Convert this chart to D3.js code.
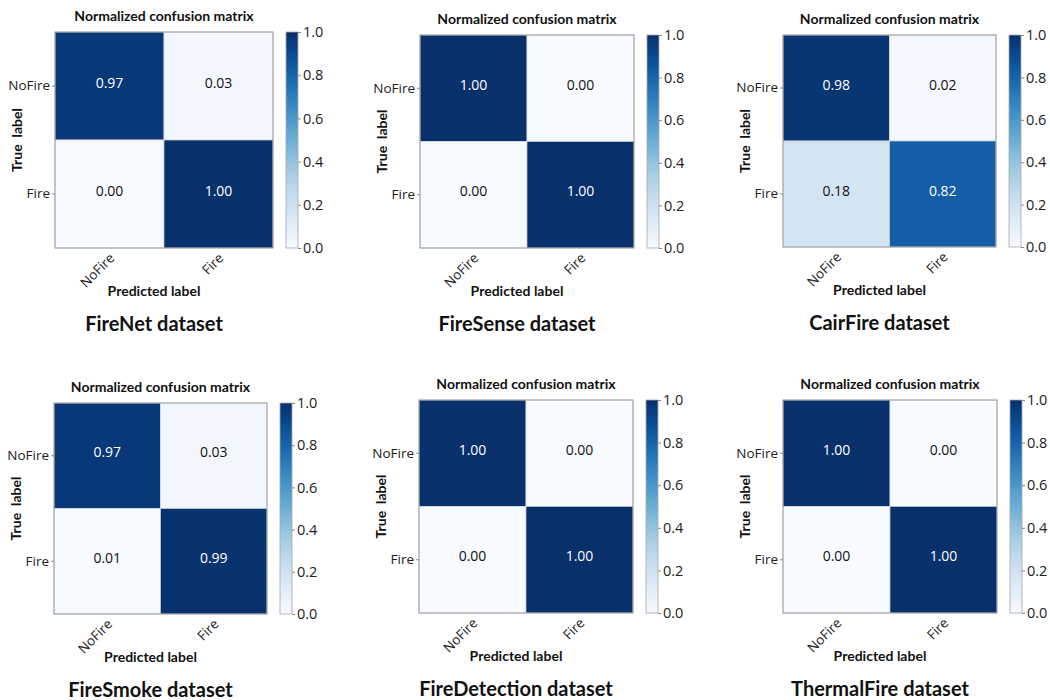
<!DOCTYPE html>
<html>
<head>
<meta charset="utf-8">
<script src="https://cdn.jsdelivr.net/npm/d3@7"></script>
<style>
  body { margin: 0; background: #fff; }
  svg { display: block; }
</style>
</head>
<body>
<svg id="chart" width="1050" height="700"></svg>
<script>
// class names on both axes
const classes = ["NoFire", "Fire"];

// dataset captions, in panel order
const datasetNames = ["FireNet dataset", "FireSense dataset", "CairFire dataset",
                      "FireSmoke dataset", "FireDetection dataset", "ThermalFire dataset"];

// normalized confusion matrices (rows = true, cols = predicted)
const fireNet       = [[0.97, 0.03], [0.00, 1.00]];
const fireSense     = [[1.00, 0.00], [0.00, 1.00]];
const cairFire      = [[0.98, 0.02], [0.18, 0.82]];
const fireSmoke     = [[0.97, 0.03], [0.01, 0.99]];
const fireDetection = [[1.00, 0.00], [0.00, 1.00]];
const thermalFire   = [[1.00, 0.00], [0.00, 1.00]];

const colorbarTicks = [0, 0.2, 0.4, 0.6, 0.8, 1.0];

const matrices = [fireNet, fireSense, cairFire, fireSmoke, fireDetection, thermalFire];

// where each matrix sits on the page
const panels = [
  {x: 55,  y: 32,  w: 218, h: 216},
  {x: 420, y: 35,  w: 214, h: 213},
  {x: 783, y: 35,  w: 213, h: 212},
  {x: 54,  y: 403, w: 213, h: 211},
  {x: 419, y: 400, w: 214, h: 213},
  {x: 783, y: 400, w: 214, h: 213}
];

const svg = d3.select("#chart");
const color = d3.scaleSequential(d3.interpolateBlues).domain([0, 1]);
const tickFont = "'Open Sans', sans-serif";
const boldFont = "Lato, 'Open Sans', sans-serif";

// shared gradient for all colorbars
const grad = svg.append("defs").append("linearGradient")
    .attr("id", "blues").attr("x1", 0).attr("y1", 1).attr("x2", 0).attr("y2", 0);
d3.range(0, 1.0001, 0.05).forEach(t => {
    grad.append("stop").attr("offset", t).attr("stop-color", color(t));
});

panels.forEach((p, i) => {
    const m = matrices[i];
    const g = svg.append("g").attr("transform", `translate(${p.x},${p.y})`);

    let x = d3.scaleBand().domain(classes).range([0, p.w]);
    let y = d3.scaleBand().domain(classes).range([0, p.h]);

    let cells = [];
    classes.forEach((t, r) => classes.forEach((pr, c) => cells.push({t: t, p: pr, v: m[r][c]})));

    g.selectAll("rect.cell").data(cells).enter().append("rect")
        .attr("class", "cell")
        .attr("x", d => x(d.p))
        .attr("y", d => y(d.t))
        .attr("width", x.bandwidth())
        .attr("height", y.bandwidth())
        .attr("fill", d => color(d.v))
        .attr("stroke", "#d0d4da")
        .attr("stroke-width", 0.7);

    g.selectAll("text.val").data(cells).enter().append("text")
        .attr("class", "val")
        .attr("x", d => x(d.p) + x.bandwidth() / 2)
        .attr("y", d => y(d.t) + y.bandwidth() / 2 - 4)
        .attr("text-anchor", "middle")
        .attr("dominant-baseline", "central")
        .attr("font-family", tickFont)
        .attr("font-size", 14)
        .attr("fill", d => d.v > 0.5 ? "#fff" : "#111")
        .text(d => d3.format(".2f")(d.v));

    // frame
    g.append("rect").attr("width", p.w).attr("height", p.h)
        .attr("fill", "none").attr("stroke", "#9a9a9a").attr("stroke-width", 1);

    // y axis
    let yAxis = g.append("g").call(d3.axisLeft(y).tickSize(3).tickPadding(2));
    yAxis.select(".domain").remove();
    yAxis.selectAll("line").attr("stroke", "#888");
    yAxis.selectAll("text").attr("font-family", tickFont).attr("font-size", 13.5).attr("fill", "#222");

    // x axis, rotated labels
    let xAxis = g.append("g").attr("transform", `translate(0,${p.h})`)
        .call(d3.axisBottom(x).tickSize(0));
    xAxis.select(".domain").remove();
    xAxis.selectAll("text")
        .attr("font-family", tickFont).attr("font-size", 13.5).attr("fill", "#222")
        .attr("text-anchor", "end")
        .attr("dy", null).attr("y", 0)
        .attr("transform", "translate(-2,3) rotate(-45)")
        .attr("dominant-baseline", "hanging");

    // titles
    g.append("text")
        .attr("x", p.w / 2).attr("y", -11)
        .attr("text-anchor", "middle")
        .attr("font-family", boldFont).attr("font-weight", "bold").attr("font-size", 14)
        .attr("fill", "#111")
        .text("Normalized confusion matrix");

    g.append("text")
        .attr("transform", `translate(-33,${p.h / 2}) rotate(-90)`)
        .attr("text-anchor", "middle")
        .attr("font-family", boldFont).attr("font-weight", "bold").attr("font-size", 14)
        .attr("fill", "#111")
        .attr("xml:space", "preserve")
        .text("True  label");

    g.append("text")
        .attr("x", p.w / 2 - 10).attr("y", p.h + 48)
        .attr("text-anchor", "middle")
        .attr("font-family", boldFont).attr("font-weight", "bold").attr("font-size", 14)
        .attr("fill", "#111")
        .text("Predicted label");

    g.append("text")
        .attr("x", p.w / 2 - 10).attr("y", p.h + 83)
        .attr("text-anchor", "middle")
        .attr("font-family", boldFont).attr("font-weight", "bold").attr("font-size", 20)
        .attr("fill", "#111")
        .text(datasetNames[i]);

    // colorbar
    let cb = g.append("g").attr("transform", `translate(${p.w + 13},0)`);
    cb.append("rect").attr("width", 12).attr("height", p.h)
        .attr("fill", "url(#blues)").attr("stroke", "#a8a8a8").attr("stroke-width", 0.8);
    let cbScale = d3.scaleLinear().domain([0, 1]).range([p.h, 0]);
    let cbAxis = cb.append("g").attr("transform", "translate(12,0)")
        .call(d3.axisRight(cbScale).tickValues(colorbarTicks).tickFormat(d3.format(".1f")).tickSize(3).tickPadding(2));
    cbAxis.select(".domain").remove();
    cbAxis.selectAll("line").attr("stroke", "#888");
    cbAxis.selectAll("text").attr("font-family", tickFont).attr("font-size", 14.5).attr("fill", "#222");
});
</script>
</body>
</html>
